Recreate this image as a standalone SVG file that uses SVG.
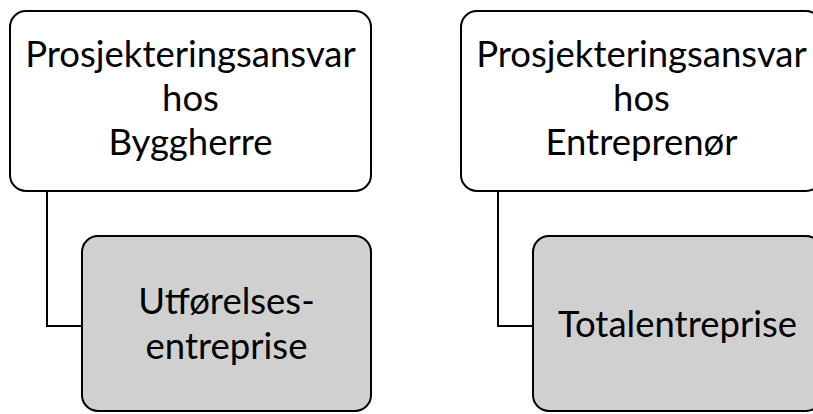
<svg xmlns="http://www.w3.org/2000/svg" width="813" height="414" viewBox="0 0 813 414">
  <style>
    .top { fill: #ffffff; stroke: #000000; stroke-width: 2; }
    .sub { fill: #d0d0d0; stroke: #000000; stroke-width: 2; }
    .label { font-family: Lato, "Open Sans", "Liberation Sans", sans-serif; font-size: 36.5px; fill: #000000; text-anchor: middle; }
    .link { fill: none; stroke: #000000; stroke-width: 2; }
  </style>
  <rect width="813" height="414" fill="#ffffff"/>

  <!-- connectors -->
  <g id="connectors">
    <path class="link" d="M47,191 V326 H82"/>
    <path class="link" d="M498,191 V326 H533"/>
  </g>

  <!-- top row -->
  <g id="node-byggherre">
    <rect class="top" x="10" y="11" width="361" height="180" rx="16" ry="16"/>
    <text class="label" x="190.5" y="67">Prosjekteringsansvar</text>
    <text class="label" x="190.5" y="111">hos</text>
    <text class="label" x="190.5" y="155">Byggherre</text>
  </g>
  <g id="node-entreprenor">
    <rect class="top" x="461" y="11" width="361" height="180" rx="16" ry="16"/>
    <text class="label" x="641.5" y="67">Prosjekteringsansvar</text>
    <text class="label" x="641.5" y="111">hos</text>
    <text class="label" x="641.5" y="155">Entreprenør</text>
  </g>

  <!-- bottom row -->
  <g id="node-utforelse">
    <rect class="sub" x="82" y="236" width="289" height="175" rx="16" ry="16"/>
    <text class="label" x="226.5" y="314">Utførelses-</text>
    <text class="label" x="226.5" y="359">entreprise</text>
  </g>
  <g id="node-total">
    <rect class="sub" x="533" y="236" width="289" height="175" rx="16" ry="16"/>
    <text class="label" x="677.5" y="337">Totalentreprise</text>
  </g>
</svg>
